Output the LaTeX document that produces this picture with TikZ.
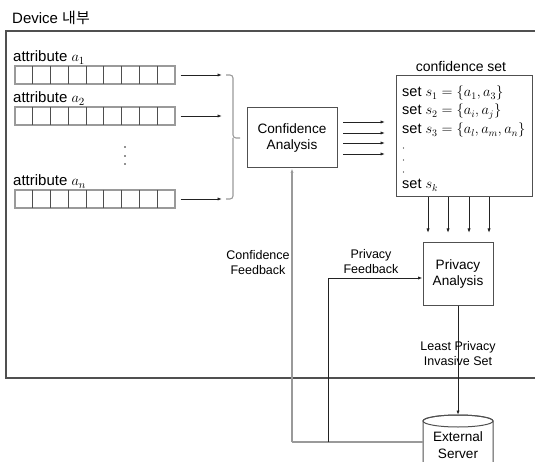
\documentclass[tikz,border=0pt]{standalone}
\usepackage{fontspec}
\setmainfont{Liberation Sans}
\newfontfamily\krfont{Noto Sans CJK KR}
\usetikzlibrary{arrows.meta}

\definecolor{framegray}{HTML}{505050}
\definecolor{linegray}{HTML}{9A9A9A}
\definecolor{ink}{HTML}{222222}

\tikzset{
  arr/.style={draw=ink, line width=0.9pt, -{Latex[length=4.5pt,width=3.2pt]}},
  plain/.style={draw=ink, line width=0.9pt},
  soft/.style={draw=linegray, line width=1.6pt},
  boxnode/.style={draw=framegray, line width=1pt, fill=white, align=center, inner sep=0pt},
  arraybox/.style={draw=linegray, line width=1.2pt, minimum width=160pt, minimum height=18pt, inner sep=0pt},
  cellline/.style={draw=ink!80, line width=0.9pt},
  lbl/.style={font=\fontsize{15}{18}\selectfont, inner sep=0pt},
  setline/.style={font=\fontsize{14.5}{17}\selectfont, inner sep=0pt, anchor=base west},
  small/.style={font=\fontsize{12.5}{15}\selectfont, align=center, inner sep=0pt},
  boxtext/.style={font=\fontsize{13.6}{16.5}\selectfont},
}

\begin{document}
\begin{tikzpicture}[x=1pt, y=-1pt]
\useasboundingbox (0,0) rectangle (535,462);

% device frame, open to the right
\draw[framegray, line width=1.3pt] (545,31) -- (6,31) -- (6,378) -- (545,378);
\node[lbl, anchor=base west] (devlbl) at (12,24) {Device {\krfont 내부}};

% attribute arrays
\foreach \n/\yy/\sub in {1/66/1, 2/107/2, n/190/n} {
  \node[arraybox] (arr\n) at (95,\yy+9) {};
  \foreach \k in {1,...,8} \draw[cellline] (15+\k*17.78,\yy) -- ++(0,18);
  \node[lbl, anchor=base west] (lab\n) at (13,\yy-4) {attribute $a_{\sub}$};
  \coordinate (b\n) at (222,\yy+9);
  \draw[arr] ([xshift=5pt]arr\n.east) -- (b\n);
}
\foreach \yy in {147,156,164} \fill[ink] (125,\yy) circle (0.9pt);

% brace gathering the attributes
\coordinate (btip) at (240,138);
\draw[soft, line width=1.1pt, rounded corners=3pt] (226,75) -- (233,75) -- (233,138) -- (btip);
\draw[soft, line width=1.1pt, rounded corners=3pt] (226,199) -- (233,199) -- (233,138);

% confidence analysis
\node[boxnode, minimum width=90pt, minimum height=60pt, boxtext] (ca) at (292,138) {Confidence\\Analysis};

% confidence set
\node[boxnode, minimum width=136pt, minimum height=121pt] (cs) at (464,136.5) {};
\node[font=\fontsize{14}{17}\selectfont, inner sep=0pt, anchor=base] (cstitle) at (461,72) {confidence set};
\node[setline] (s1) at (402,97) {set $s_1=\{a_1,a_3\}$};
\node[setline] (s2) at (402,115) {set $s_2=\{a_i,a_j\}$};
\node[setline] (s3) at (402,134) {set $s_3=\{a_l,a_m,a_n\}$};
\foreach \yy in {148,160,172} \fill[ink] (403.5,\yy) circle (0.7pt);
\node[setline] (sk) at (402,189) {set $s_k$};

% analysis results into the confidence set
\foreach \yy [count=\i] in {122,133,143,154} {
  \coordinate (cf\i) at (343,\yy);
  \coordinate (ct\i) at (385,\yy);
  \draw[arr] (cf\i) -- (ct\i);
}

% privacy analysis
\node[boxnode, minimum width=70pt, minimum height=62pt, boxtext] (pa) at (458,274) {Privacy\\Analysis};
\foreach \xx [count=\i] in {428,448,469,489} {
  \coordinate (dt\i) at (\xx,233);
  \draw[arr] (\xx,197) -- (dt\i);
}

% external server (cylinder running off the bottom)
\draw[framegray, line width=1pt, fill=white] (423,475) -- (423,421) arc[start angle=180, end angle=360, x radius=35, y radius=6] -- (493,475);
\draw[framegray, line width=1pt] (458,421) ellipse [x radius=35, y radius=6];
\coordinate (estop) at (458,415);
\coordinate (esleft) at (423,442);
\node[boxtext, align=center, inner sep=0pt] (es) at (458,445) {External\\Server};

% least privacy invasive set
\draw[arr] (pa.south) -- (estop);
\node[small] (lpis) at (458,354) {Least Privacy\\Invasive Set};

% feedback paths
\coordinate (fbc) at (292,442);
\coordinate (fbp) at (328,442);
\draw[soft] (esleft) -- (fbc);
\draw[soft, -{Latex[length=4.5pt,width=3.2pt]}, line width=1.6pt] (fbc) -- (ca.south);
\draw[plain, -{Latex[length=4.5pt,width=3.2pt]}] (fbp) |- ([yshift=-4pt]pa.west);
\node[small] (cfb) at (258,263) {Confidence\\Feedback};
\node[small] (pfb) at (371,262) {Privacy\\Feedback};
\end{tikzpicture}
\end{document}
